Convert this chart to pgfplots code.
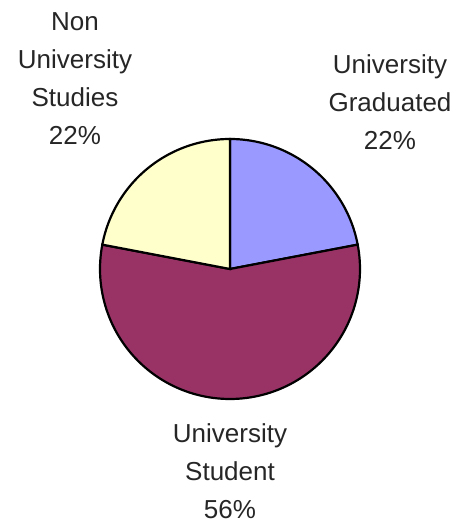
\documentclass[border=0pt]{standalone}
\usepackage{fontspec}
\setmainfont{Liberation Sans}
\usepackage{pgfplots}
\usepackage{pgfplotstable}
\pgfplotsset{compat=1.18}
\definecolor{cBlue}{HTML}{9999FF}
\definecolor{cMaroon}{HTML}{993366}
\definecolor{cYellow}{HTML}{FFFFCC}
\pgfplotstableread[col sep=comma]{
label,value
University Graduated,22
University Student,56
Non University Studies,22
}\piedata
\begin{document}%
\begin{tikzpicture}
\pgfplotstablegetelem{0}{value}\of\piedata \let\vA\pgfplotsretval
\pgfplotstablegetelem{1}{value}\of\piedata \let\vB\pgfplotsretval
\pgfplotstablegetelem{2}{value}\of\piedata \let\vC\pgfplotsretval
\pgfmathsetmacro\aZ{90}
\pgfmathsetmacro\aA{\aZ-3.6*\vA}
\pgfmathsetmacro\aB{\aA-3.6*\vB}
\pgfmathsetmacro\aC{\aB-3.6*\vC}
\begin{axis}[
  scale only axis,
  width=231.5pt, height=263.5pt,
  xmin=0, xmax=463, ymin=0, ymax=527,
  hide axis,
  clip=false,
  font=\fontsize{13}{19}\selectfont,
]
\addplot[draw=none, forget plot] coordinates {(0,0) (463,527)};
\addplot[fill=cBlue, draw=black, line width=1.1pt, domain=\aA:\aZ, samples=80, variable=\t]
  ({230+130*cos(\t)},{258+130*sin(\t)}) -- (axis cs:230,258) -- cycle;
\addplot[fill=cMaroon, draw=black, line width=1.1pt, domain=\aB:\aA, samples=120, variable=\t]
  ({230+130*cos(\t)},{258+130*sin(\t)}) -- (axis cs:230,258) -- cycle;
\addplot[fill=cYellow, draw=black, line width=1.1pt, domain=\aC:\aB, samples=80, variable=\t]
  ({230+130*cos(\t)},{258+130*sin(\t)}) -- (axis cs:230,258) -- cycle;
\node[overlay, inner sep=0pt, align=center, text=black!85] at (axis cs:75,448) {Non\\University\\Studies\\\vC\%};
\node[overlay, inner sep=0pt, align=center, text=black!85] at (axis cs:390,425) {University\\Graduated\\\vA\%};
\node[overlay, inner sep=0pt, align=center, text=black!85] at (axis cs:230,56) {University\\Student\\\vB\%};
\end{axis}
\end{tikzpicture}%
\end{document}
